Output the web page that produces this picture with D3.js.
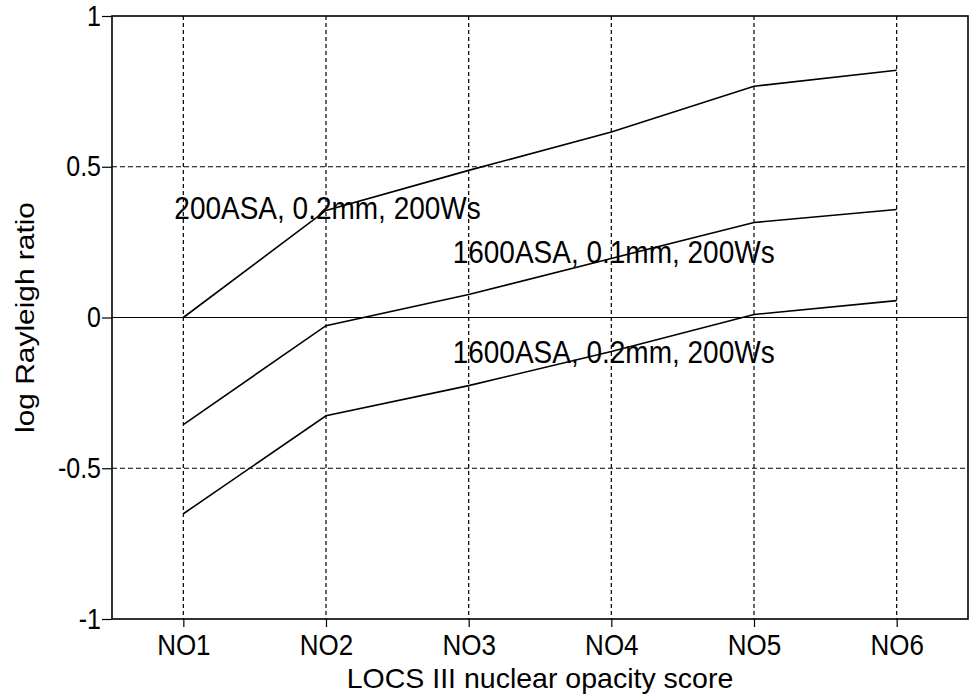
<!DOCTYPE html>
<html>
<head>
<meta charset="utf-8">
<script src="https://cdn.jsdelivr.net/npm/d3@7"></script>
<style>
  html, body { margin: 0; padding: 0; background: #fff; }
  svg { display: block; }
  text { font-family: "Liberation Sans", Arial, Helvetica, sans-serif; fill: #000; }
</style>
</head>
<body>
<svg id="chart" width="976" height="696"></svg>
<script>
// ---- data ----
const categories = ["NO1", "NO2", "NO3", "NO4", "NO5", "NO6"];
const series200ASA_02mm  = [0.0, 0.355, 0.488, 0.615, 0.767, 0.82];
const series1600ASA_01mm = [-0.355, -0.027, 0.076, 0.196, 0.315, 0.358];
const series1600ASA_02mm = [-0.651, -0.326, -0.226, -0.113, 0.01, 0.056];
const seriesLabels = ["200ASA, 0.2mm, 200Ws", "1600ASA, 0.1mm, 200Ws", "1600ASA, 0.2mm, 200Ws"];
const yTicks = [-1, -0.5, 0, 0.5, 1];
const yTickLabels = ["-1", "-0.5", "0", "0.5", "1"];
const xTitle = "LOCS III nuclear opacity score";
const yTitle = "log Rayleigh ratio";

(function() {
// ---- layout ----
const mLeft = 112, mRight = 968, mTop = 16, mBottom = 619;
const stretch = 1.15; // vertical stretch of the reference lettering

const svg = d3.select("#chart");
const x = d3.scalePoint().domain(categories).range([mLeft, mRight]).padding(0.5);
const y = d3.scaleLinear().domain([-1, 1]).range([mBottom, mTop]);

// grid
const grid = svg.append("g");
grid.selectAll("line.v").data(categories).join("line")
  .attr("x1", d => x(d)).attr("x2", d => x(d))
  .attr("y1", mTop).attr("y2", mBottom)
  .attr("stroke", "#000").attr("stroke-width", 1.2).attr("stroke-dasharray", "4,3");
grid.selectAll("line.h").data([0.5, -0.5]).join("line")
  .attr("x1", mLeft).attr("x2", mRight)
  .attr("y1", d => y(d)).attr("y2", d => y(d))
  .attr("stroke", "#000").attr("stroke-width", 1.2).attr("stroke-dasharray", "5,3");
// zero line
svg.append("line").attr("x1", mLeft).attr("x2", mRight)
  .attr("y1", y(0)).attr("y2", y(0))
  .attr("stroke", "#000").attr("stroke-width", 1.2);

// frame
svg.append("rect").attr("x", mLeft).attr("y", mTop)
  .attr("width", mRight - mLeft).attr("height", mBottom - mTop)
  .attr("fill", "none").attr("stroke", "#000").attr("stroke-width", 1.6);

// axes
const yAxis = d3.axisLeft(y).tickValues(yTicks).tickSize(10).tickPadding(2)
  .tickFormat((d, i) => yTickLabels[i]);
const gy = svg.append("g").attr("transform", `translate(${mLeft},0)`).call(yAxis);
gy.select(".domain").remove();
gy.selectAll(".tick line").attr("stroke", "#000").attr("stroke-width", 1.2);
gy.selectAll(".tick text").each(function() {
  const t = d3.select(this);
  t.attr("x", null).attr("dy", null)
   .attr("font-size", 25).attr("text-anchor", "end")
   .attr("transform", `translate(-11,9) scale(1,${stretch})`);
});

const xAxis = d3.axisBottom(x).tickSize(8).tickPadding(4);
const gx = svg.append("g").attr("transform", `translate(0,${mBottom})`).call(xAxis);
gx.select(".domain").remove();
gx.selectAll(".tick line").attr("stroke", "#000").attr("stroke-width", 1.2);
gx.selectAll(".tick text").each(function() {
  const t = d3.select(this);
  t.attr("y", null).attr("dy", null)
   .attr("font-size", 26).attr("text-anchor", "middle")
   .attr("transform", `translate(0,36) scale(1,${stretch})`);
});

// lines
const lineGen = d3.line().x((d, i) => x(categories[i])).y(d => y(d));
const allSeries = [series200ASA_02mm, series1600ASA_01mm, series1600ASA_02mm];
svg.append("g").selectAll("path").data(allSeries).join("path")
  .attr("d", lineGen)
  .attr("fill", "none").attr("stroke", "#000").attr("stroke-width", 1.6)
  .attr("stroke-linejoin", "miter");

// series annotations (anchored in data units)
const labelCats = ["NO1", "NO3", "NO3"];
const labelVals = [0.328, 0.18, -0.15];
const labelDx = [-9, -16, -16];
svg.append("g").selectAll("text").data(seriesLabels).join("text")
  .attr("font-size", 28)
  .attr("transform", (d, i) => `translate(${x(labelCats[i]) + labelDx[i]},${y(labelVals[i])}) scale(1,${stretch})`)
  .text(d => d);

// axis titles
svg.append("text")
  .attr("font-size", 28.5).attr("text-anchor", "middle")
  .attr("transform", `translate(${(mLeft + mRight) / 2},688)`)
  .text(xTitle);
svg.append("text")
  .attr("font-size", 26).attr("text-anchor", "middle")
  .attr("transform", `translate(34,${(mTop + mBottom) / 2}) rotate(-90) scale(${stretch},1)`)
  .text(yTitle);
})();
</script>
</body>
</html>
